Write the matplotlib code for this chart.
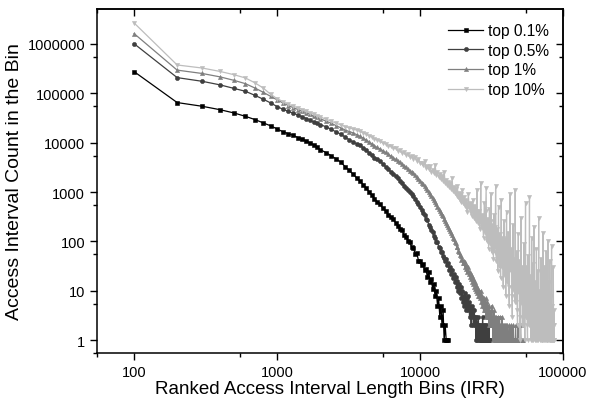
import matplotlib
matplotlib.use('Agg')
import matplotlib.pyplot as plt
from matplotlib.ticker import FixedLocator, NullFormatter

plt.rcParams['font.family'] = ['Liberation Sans', 'DejaVu Sans']

# bin upper edges of the ranked access interval lengths (IRR)
bins = (list(range(100, 2001, 100)) + list(range(2200, 5001, 200))
        + list(range(5250, 20001, 250)) + list(range(20200, 40001, 200))
        + list(range(40300, 87001, 300)))

labels = ['top 0.1%', 'top 0.5%', 'top 1%', 'top 10%']

top01 = [275000, 65000, 54600, 46500, 40000, 34200, 29400, 25200, 22000, 19000,
         16600, 15200, 14000, 12700, 11800, 10800, 9900, 9100, 8100, 7250,
         6300, 5400, 4650, 4000, 3250, 2750, 2300, 1950, 1660, 1420, 1200, 1020, 870, 740, 640,
         560, 470, 410, 350, 315, 280, 240, 210, 175, 168, 132, 125, 102, 98, 76, 74, 55, 58, 41, 40,
         33, 35, 26, 28, 19, 24, 15, 17, 11, 14, 8, 10, 5, 7, 3, 5, 2, 4, 1, 2, 1, 1, 1]

top05 = [1010000, 208000, 175000, 148000, 126000, 110000, 91000, 76000, 64000, 54000,
         47500, 43000, 39500, 36300, 33600, 30800, 28500, 26100, 24500, 23100,
         21100, 18500, 16500, 14800, 12900, 11400, 10300, 9500, 8850, 7900, 7100, 6300, 5600, 5000, 4600,
         4200, 3700, 3250, 2900, 2550, 2300, 2100, 1900, 1680, 1500, 1330, 1200, 1080, 980, 900, 820, 730, 640, 560, 490,
         430, 380, 345, 290, 270, 220, 200, 168, 156, 128, 120, 98, 96, 78, 75, 60, 62, 50, 47, 40,
         44, 33, 36, 27, 30, 22, 26, 18, 22, 15, 19, 12, 16, 10, 14, 9, 12, 7, 10, 6,
         8, 5, 9, 6, 4, 7, 5, 8, 4, 6,
         3, 5, 4, 2, 5, 3, 4, 2, 3, 4,
         2, 3, 1, 3, 2, 1, 2, 3, 1, 2,
         1, 2, 1, 1, 2, 1, 3, 1, 1, 2,
         1, 1, 2, 1, 1, 1, 2, 1, 1, 1,
         1, 2, 1, 1, 1]

top1 = [1620000, 295000, 252000, 215000, 183000, 157000, 128000, 105000, 87000, 74000,
        63500, 56500, 51000, 47000, 43800, 40500, 37500, 34500, 32500, 30700,
        27300, 24700, 22000, 19900, 18000, 16800, 15800, 14600, 13500, 12400, 11400, 10400, 9500, 8700, 8000,
        7490, 6900, 6350, 5850, 5350, 4950, 4600, 4300, 4000, 3700, 3400, 3150, 2900, 2700, 2550, 2400, 2200, 2000, 1850, 1700,
        1560, 1430, 1300, 1190, 1090, 1000, 920, 840, 760, 690, 620, 560, 505, 460, 420, 385, 345, 320, 285, 265,
        240, 215, 200, 178, 165, 145, 138, 118, 112, 96, 92, 78, 76, 64, 62, 52, 50, 42, 44, 36,
        40, 36, 30, 38, 28, 32, 24, 30, 26, 22,
        24, 19, 22, 17, 20, 15, 18, 14, 16, 12,
        15, 11, 13, 10, 12, 9, 11, 8, 10, 8,
        9, 7, 10, 6, 8, 5, 7, 6, 4, 7,
        5, 6, 4, 7, 3, 5, 4, 6, 3, 4,
        5, 2, 4, 3, 2, 4, 3, 2, 5, 2,
        3, 1, 3, 2, 4, 1, 2, 3, 1, 2,
        3, 1, 2, 1, 3, 2, 1, 2, 1, 3,
        1, 2, 1, 1, 2, 1, 3, 1, 1, 2,
        1, 1, 2, 1, 1, 2, 1, 1, 1, 2,
        1, 1, 2, 1, 1, 1, 2, 1, 1, 1,
        2, 1, 1, 1, 1, 2, 1, 1, 1, 1,
        1, 2, 1, 1, 1, 1, 1, 2, 1, 1,
        1, 1, 1, 1, 2, 1, 1, 1, 1, 1,
        1, 1]

top10 = [2660000, 375000, 325000, 277000, 238000, 205000, 163000, 128000, 96000, 78000,
         68000, 60000, 55000, 51000, 47000, 43500, 40500, 37500, 35000, 33500,
         29800, 27200, 24700, 22800, 21200, 20000, 19000, 18000, 17000, 15900, 14900, 13900, 13000, 12100, 11300,
         10700, 9800, 9500, 8700, 8500, 7800, 7700, 6900, 7000, 6200, 6400, 5600, 6000, 5100, 5500, 4700, 5200, 4300, 4700, 3900,
         3900, 3500, 4200, 3100, 3400, 2900, 3300, 2600, 2800, 2400, 3500, 2200, 2500, 2000, 2300, 1800, 2100, 1700, 2600, 1500,
         1750, 1400, 1600, 1250, 1500, 1150, 1900, 1050, 1250, 950, 1150, 850, 1300, 780, 950, 700, 900, 620, 1100, 600,
         800, 620, 520, 700, 650, 480, 400, 560, 900, 520,
         450, 600, 560, 380, 330, 480, 700, 410, 300, 520,
         480, 340, 260, 420, 1100, 300, 240, 380, 420, 260,
         180, 320, 1500, 260, 200, 300, 350, 180, 120, 240,
         600, 200, 150, 420, 1200, 160, 100, 220, 280, 130,
         70, 180, 450, 110, 90, 260, 900, 140, 60, 150,
         220, 90, 45, 130, 350, 60, 80, 200, 1300, 110,
         40, 95, 180, 50, 25, 120, 500, 70, 60, 30,
         140, 45, 18, 90, 700, 55, 30, 80, 120, 35,
         12, 60, 260, 40, 20, 110, 90, 25, 8, 70,
         400, 30, 15, 80, 150, 12, 5, 60, 900, 25,
         30, 70, 8, 3, 45, 220, 15, 10, 40, 6,
         1100, 20, 6, 35, 60, 4, 2, 25, 140, 9,
         12, 40, 3, 1, 18, 300, 6, 8, 30, 2,
         25, 5, 2, 90, 12, 4, 1, 20, 600, 3,
         3, 15, 30, 2, 1, 50, 8, 6, 2, 12,
         800, 4, 2, 20, 5, 1, 3, 120, 6, 1,
         4, 35, 2, 1, 10, 200, 3, 1, 6, 2,
         15, 1, 4, 70, 2, 1, 8, 25, 3, 1,
         2, 300, 4, 2, 10, 1, 3, 6, 1, 2,
         45, 3, 1, 8, 2, 1, 5, 150, 2, 1,
         1, 12, 3, 2, 30, 1, 4, 2, 1, 6,
         60, 2, 1, 6, 3, 1, 2, 100, 1, 3,
         1, 15, 2, 4, 1, 40, 3, 1, 2, 1,
         8, 1, 2, 80, 1, 3, 1, 5, 2, 1,
         1, 30, 2, 1, 4, 1]

series = [top01, top05, top1, top10]
colors = ['#000000', '#3f3f3f', '#7f7f7f', '#bdbdbd']
markers = ['s', 'o', '^', 'v']

fig = plt.figure(figsize=(5.9, 4.02), dpi=100)
ax = fig.add_axes([0.1644, 0.1194, 0.7898, 0.8557])

for vals, lab, c, m in zip(series, labels, colors, markers):
    ax.plot(bins[:len(vals)], vals, color=c, marker=m, markersize=3,
            markeredgewidth=0.4, linewidth=0.9, label=lab)

ax.set_xscale('log')
ax.set_yscale('log')
ax.set_xlim(55, 100000)
ax.set_ylim(0.55, 5.1e6)

xmaj = [100, 1000, 10000, 100000]
xmin = [55, 550, 5500, 55000]
ymaj = [1, 10, 100, 1000, 10000, 100000, 1000000]
ymin = [0.55, 5.5, 55, 550, 5500, 55000, 550000]

ax.xaxis.set_major_locator(FixedLocator(xmaj))
ax.xaxis.set_minor_locator(FixedLocator(xmin))
ax.yaxis.set_major_locator(FixedLocator(ymaj))
ax.yaxis.set_minor_locator(FixedLocator(ymin))
ax.xaxis.set_minor_formatter(NullFormatter())
ax.yaxis.set_minor_formatter(NullFormatter())
ax.set_xticklabels([str(v) for v in xmaj])
ax.set_yticklabels([str(v) for v in ymaj])
ax.tick_params(which='major', direction='out', length=5, width=1, labelsize=10.5)
ax.tick_params(which='minor', direction='out', length=3, width=1)

# mirrored ticks on top and right point inwards
top = ax.secondary_xaxis('top')
top.xaxis.set_major_locator(FixedLocator(xmaj))
top.xaxis.set_minor_locator(FixedLocator(xmin))
top.xaxis.set_major_formatter(NullFormatter())
top.xaxis.set_minor_formatter(NullFormatter())
top.tick_params(which='major', direction='in', length=5, width=1)
top.tick_params(which='minor', direction='in', length=3, width=1)
right = ax.secondary_yaxis('right')
right.yaxis.set_major_locator(FixedLocator(ymaj))
right.yaxis.set_minor_locator(FixedLocator(ymin))
right.yaxis.set_major_formatter(NullFormatter())
right.yaxis.set_minor_formatter(NullFormatter())
right.tick_params(which='major', direction='in', length=5, width=1)
right.tick_params(which='minor', direction='in', length=3, width=1)

for sp in list(ax.spines.values()) + list(top.spines.values()) + list(right.spines.values()):
    sp.set_linewidth(1.1)

ax.set_xlabel('Ranked Access Interval Length Bins (IRR)', fontsize=13.5, labelpad=1)
ax.set_ylabel('Access Interval Count in the Bin', fontsize=14, labelpad=3)

ax.legend(loc='upper right', frameon=False, fontsize=11.2, handlelength=2.25,
          handletextpad=0.32, labelspacing=0.3, borderaxespad=0.5)

fig.savefig('out.png', dpi=100)
